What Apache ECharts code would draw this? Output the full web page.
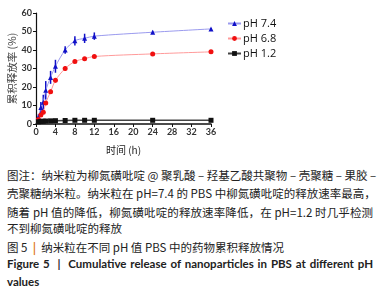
<!DOCTYPE html>
<html>
<head>
<meta charset="utf-8">
<script src="https://cdn.jsdelivr.net/npm/echarts@6/dist/echarts.min.js"></script>
<style>
  body { margin: 0; background: #fff; }
  #wrap { position: relative; width: 385px; height: 298px; overflow: hidden; }
  #chart { position: absolute; left: 0; top: 0; width: 385px; height: 160px; }
  .cap { position: absolute; left: 7px; width: 366px; font-family: "Noto Sans CJK SC", sans-serif;
         font-size: 11.5px; color: #222; white-space: nowrap; line-height: 14px; }
  .just { text-align: justify; text-align-last: justify; }
  .en { font-family: Lato, "Open Sans", sans-serif; font-weight: bold; font-size: 11.5px; }
</style>
</head>
<body>
<div id="wrap">
  <div id="chart"></div>
  <div class="cap just" style="top:168px">图注：纳米粒为柳氮磺吡啶 @ 聚乳酸 – 羟基乙酸共聚物 – 壳聚糖 – 果胶 –</div>
  <div class="cap just" style="top:186px">壳聚糖纳米粒。纳米粒在 pH=7.4 的 PBS 中柳氮磺吡啶的释放速率最高，</div>
  <div class="cap just" style="top:205px">随着 pH 值的降低，柳氮磺吡啶的释放速率降低，在 pH=1.2 时几乎检测</div>
  <div class="cap" style="top:221px">不到柳氮磺吡啶的释放</div>
  <div class="cap" style="top:240px">图 5 &nbsp;<span style="color:#e07a1a; font-weight:bold">|</span>&nbsp; 纳米粒在不同 pH 值 PBS 中的药物累积释放情况</div>
  <div class="cap just en" style="top:257px">Figure 5 &nbsp;| &nbsp;Cumulative release of nanoparticles in PBS at different pH</div>
  <div class="cap en" style="top:275px">values</div>
</div>
<script>
  // time points (h)
  let times = [0.5, 1, 1.5, 2, 3, 4, 6, 8, 10, 12, 24, 36]
  // cumulative release (%)
  let ph74 = [3.8, 8.9, 11.8, 18.2, 25.2, 31.2, 40.0, 45.0, 46.3, 47.5, 49.6, 51.4]
  let ph68 = [2.4, 4.8, 6.3, 11.4, 17.4, 23.6, 30.0, 33.8, 35.3, 36.5, 37.9, 39.0]
  let ph12 = [1.2, 1.4, 1.5, 1.6, 1.7, 1.8, 1.9, 2.0, 2.0, 2.0, 2.0, 2.0]
  // error bar half-widths
  let err74 = [1.5, 3.0, 4.0, 5.0, 3.5, 3.5, 2.0, 2.5, 2.5, 2.0, 0.8, 0.5]
  let err68 = [0.8, 1.0, 1.0, 1.0, 1.2, 1.2, 1.2, 0.8, 0.8, 0.8, 0.6, 0.6]
  let yTicks = [0, 10, 20, 30, 40, 50, 60]
  let xTicks = [0, 4, 8, 12, 16, 20, 24, 28, 32, 36]

  function pairs(vals) {
    return times.map(function (t, i) { return [t, vals[i]] })
  }
  function bars(vals, errs) {
    return times.map(function (t, i) { return [t, vals[i] - errs[i], vals[i] + errs[i]] })
  }
  function errSeries(vals, errs, color) {
    return {
      type: 'custom',
      silent: true,
      z: 3,
      data: bars(vals, errs),
      renderItem: function (params, api) {
        let lo = api.coord([api.value(0), api.value(1)])
        let hi = api.coord([api.value(0), api.value(2)])
        return {
          type: 'line',
          shape: { x1: lo[0], y1: lo[1], x2: hi[0], y2: hi[1] },
          style: { stroke: color, lineWidth: 1.5 }
        }
      }
    }
  }

  let myChart = echarts.init(document.getElementById('chart'))
  let axisFont = { fontSize: 9, fontWeight: 'bold', color: '#333', fontFamily: 'Lato, sans-serif' }
  let option = {
    animation: false,
    grid: { left: 36, right: 174, top: 13, bottom: 29 },
    legend: {
      orient: 'vertical',
      left: 222,
      top: 13,
      itemWidth: 13,
      itemHeight: 6,
      itemGap: 4,
      textStyle: { fontSize: 11, color: '#111', fontFamily: '"Open Sans", sans-serif', padding: [0, 0, 0, -3] },
      data: ['pH 7.4', 'pH 6.8', 'pH 1.2']
    },
    xAxis: {
      type: 'value',
      min: 0, max: 36, interval: 4,
      name: '时间 (h)',
      nameLocation: 'middle',
      nameGap: 21,
      nameTextStyle: { fontSize: 10, color: '#222', fontFamily: '"Noto Sans CJK SC", sans-serif' },
      axisLine: { lineStyle: { color: '#111', width: 1.5 } },
      axisTick: { length: 3, lineStyle: { color: '#111' } },
      axisLabel: Object.assign({ margin: 4, formatter: function (v) { return xTicks.indexOf(v) >= 0 ? v : '' } }, axisFont),
      splitLine: { show: false }
    },
    yAxis: {
      type: 'value',
      min: 0, max: 60, interval: 10,
      name: '累积释放率 (%)',
      nameLocation: 'middle',
      nameGap: 19,
      nameTextStyle: { fontSize: 10.5, color: '#444', fontFamily: '"Noto Sans CJK SC", sans-serif' },
      axisLine: { show: true, lineStyle: { color: '#111', width: 1.2 } },
      axisTick: { show: true, length: 3, lineStyle: { color: '#111' } },
      axisLabel: Object.assign({ margin: 4, formatter: function (v) { return yTicks.indexOf(v) >= 0 ? v : '' } }, axisFont),
      splitLine: { show: false }
    },
    series: [
      {
        name: 'pH 7.4',
        type: 'line',
        smooth: 0.3,
        data: pairs(ph74),
        symbol: 'triangle',
        symbolSize: 5,
        lineStyle: { color: '#9a9aee', width: 1 },
        itemStyle: { color: '#1010c8' },
        z: 4
      },
      {
        name: 'pH 6.8',
        type: 'line',
        smooth: 0.3,
        data: pairs(ph68),
        symbol: 'circle',
        symbolSize: 5,
        lineStyle: { color: '#ff9a9a', width: 1 },
        itemStyle: { color: '#f01010' },
        z: 4
      },
      {
        name: 'pH 1.2',
        type: 'line',
        data: pairs(ph12),
        symbol: 'rect',
        symbolSize: 5,
        lineStyle: { color: '#444', width: 1.5 },
        itemStyle: { color: '#111' },
        z: 4
      },
      errSeries(ph74, err74, '#1010c8'),
      errSeries(ph68, err68, '#f01010')
    ]
  }
  myChart.setOption(option)
</script>
</body>
</html>
